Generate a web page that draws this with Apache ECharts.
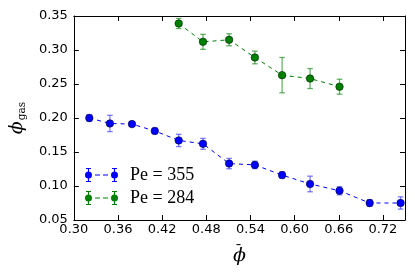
<!DOCTYPE html>
<html>
<head>
<meta charset="utf-8">
<script src="https://cdn.jsdelivr.net/npm/echarts@6/dist/echarts.min.js"></script>
<style>html,body{margin:0;padding:0;background:#fff}#c{width:415px;height:277px}</style>
</head>
<body>
<div id="c"></div>
<script>
// ---- data ----
const seriesNames = ['Pe = 355', 'Pe = 284'];
const blueX   = [0.321, 0.349, 0.379, 0.410, 0.4425, 0.4755, 0.511, 0.546, 0.583, 0.621, 0.661, 0.702, 0.744];
const blueY   = [0.200, 0.192, 0.191, 0.181, 0.167, 0.162, 0.133, 0.131, 0.116, 0.103, 0.093, 0.075, 0.075];
const blueErr = [0.005, 0.012, 0.003, 0.004, 0.009, 0.008, 0.0076, 0.0054, 0.0047, 0.0115, 0.006, 0.005, 0.009];
const greenX   = [0.4425, 0.4755, 0.511, 0.546, 0.583, 0.621, 0.661];
const greenY   = [0.339, 0.312, 0.315, 0.289, 0.263, 0.258, 0.246];
const greenErr = [0.0074, 0.011, 0.0088, 0.0093, 0.026, 0.0147, 0.011];
const xTicks = {min: 0.30, max: 0.75, interval: 0.06};
const yTicks = {min: 0.05, max: 0.35, interval: 0.05};

const BLUE = '#0000ff', GREEN = '#008000';
const BLUE_ERR = 'rgba(40,40,255,0.6)', GREEN_ERR = 'rgba(0,128,0,0.6)';

function pts(xs, ys) { return xs.map((x, i) => [x, ys[i]]); }
function errData(xs, ys, es) { return xs.map((x, i) => [x, ys[i] - es[i], ys[i] + es[i]]); }

function errSeries(data, color) {
  return {
    type: 'custom', data: data, z: 1, silent: true,
    renderItem: function (params, api) {
      const x = api.value(0), lo = api.value(1), hi = api.value(2);
      const p1 = api.coord([x, lo]), p2 = api.coord([x, hi]);
      const cw = 2.8;
      const st = {stroke: color, lineWidth: 1.3};
      return {type: 'group', children: [
        {type: 'line', shape: {x1: p1[0], y1: p1[1], x2: p2[0], y2: p2[1]}, style: st},
        {type: 'line', shape: {x1: p1[0]-cw, y1: p1[1], x2: p1[0]+cw, y2: p1[1]}, style: st},
        {type: 'line', shape: {x1: p2[0]-cw, y1: p2[1], x2: p2[0]+cw, y2: p2[1]}, style: st}
      ]};
    },
    encode: {x: 0, y: [1, 2]}
  };
}

// legend icon: marker + errorbar, dash, marker + errorbar
const iconPath = 'path://' +
  'M2.4 0 L3.6 0 L3.6 14 L2.4 14 Z M0.5 0 L5.5 0 L5.5 1 L0.5 1 Z M0.5 13 L5.5 13 L5.5 14 L0.5 14 Z ' +
  'M-0.5 7 A3.5 3.5 0 1 1 6.5 7 A3.5 3.5 0 1 1 -0.5 7 Z ' +
  'M9.5 6.4 L14.5 6.4 L14.5 7.6 L9.5 7.6 Z M17.5 6.4 L22.5 6.4 L22.5 7.6 L17.5 7.6 Z ' +
  'M28.4 0 L29.6 0 L29.6 14 L28.4 14 Z M26.5 0 L31.5 0 L31.5 1 L26.5 1 Z M26.5 13 L31.5 13 L31.5 14 L26.5 14 Z ' +
  'M25.5 7 A3.5 3.5 0 1 1 32.5 7 A3.5 3.5 0 1 1 25.5 7 Z';

const fmt = v => v.toFixed(2);
const tickFont = {fontFamily: 'DejaVu Sans', fontSize: 13, color: '#000'};

const chart = echarts.init(document.getElementById('c'), null, {renderer: 'canvas'});
chart.setOption({
  animation: false,
  backgroundColor: '#fff',
  grid: {left: 72, right: 10, top: 16, bottom: 57, containLabel: false},
  legend: {
    orient: 'vertical', left: 80, top: 161, itemGap: 5,
    itemWidth: 33, itemHeight: 15,
    data: seriesNames.map(n => ({name: n, icon: iconPath})),
    textStyle: {fontFamily: 'Liberation Serif', fontSize: 18, color: '#000', padding: [0, 0, 0, 7]},
    itemStyle: {borderWidth: 0}
  },
  xAxis: [
    {type: 'value', min: xTicks.min, max: xTicks.max, interval: xTicks.interval,
     axisLine: {show: true, onZero: false, lineStyle: {color: '#000', width: 1}},
     axisTick: {inside: true, length: 5, lineStyle: {color: '#000'}},
     axisLabel: {formatter: fmt, showMaxLabel: false, margin: 3, ...tickFont},
     splitLine: {show: false},
     name: '{b|\u00AF}\n{p|ϕ}', nameLocation: 'middle', nameGap: 20,
     nameTextStyle: {rich: {
       b: {fontFamily: 'DejaVu Serif', fontSize: 14, color: '#000', lineHeight: 1, padding: [3, 2, 0, 0]},
       p: {fontFamily: 'DejaVu Serif', fontStyle: 'italic', fontSize: 19, color: '#000', lineHeight: 12}
     }}},
    {type: 'value', position: 'top', min: xTicks.min, max: xTicks.max, interval: xTicks.interval,
     axisLine: {show: true, onZero: false, lineStyle: {color: '#000', width: 1}},
     axisTick: {inside: true, length: 5, lineStyle: {color: '#000'}},
     axisLabel: {show: false}, splitLine: {show: false}}
  ],
  yAxis: [
    {type: 'value', min: yTicks.min, max: yTicks.max, interval: yTicks.interval,
     axisLine: {show: true, onZero: false, lineStyle: {color: '#000', width: 1}},
     axisTick: {inside: true, length: 5, lineStyle: {color: '#000'}},
     axisLabel: {formatter: fmt, margin: 6, ...tickFont},
     splitLine: {show: false},
     name: '{p|ϕ}{s|gas}', nameLocation: 'middle', nameRotate: 90, nameGap: 29,
     nameTextStyle: {rich: {
       p: {fontFamily: 'DejaVu Serif', fontStyle: 'italic', fontSize: 19, color: '#000', verticalAlign: 'top'},
       s: {fontFamily: 'DejaVu Serif', fontSize: 10.5, color: '#000', verticalAlign: 'top', padding: [9, 0, 0, 1]}
     }}},
    {type: 'value', position: 'right', min: yTicks.min, max: yTicks.max, interval: yTicks.interval,
     axisLine: {show: true, onZero: false, lineStyle: {color: '#000', width: 1}},
     axisTick: {inside: true, length: 5, lineStyle: {color: '#000'}},
     axisLabel: {show: false}, splitLine: {show: false}}
  ],
  series: [
    errSeries(errData(blueX, blueY, blueErr), BLUE_ERR),
    errSeries(errData(greenX, greenY, greenErr), GREEN_ERR),
    {name: seriesNames[0], type: 'line', z: 3, data: pts(blueX, blueY),
     symbol: 'circle', symbolSize: 7.5,
     lineStyle: {color: BLUE, width: 1, type: [4, 4]},
     itemStyle: {color: BLUE, borderColor: '#000033', borderWidth: 0.6}},
    {name: seriesNames[1], type: 'line', z: 3, data: pts(greenX, greenY),
     symbol: 'circle', symbolSize: 7.5,
     lineStyle: {color: GREEN, width: 1, type: [4, 4]},
     itemStyle: {color: GREEN, borderColor: '#002000', borderWidth: 0.6}}
  ]
});
</script>
</body>
</html>
